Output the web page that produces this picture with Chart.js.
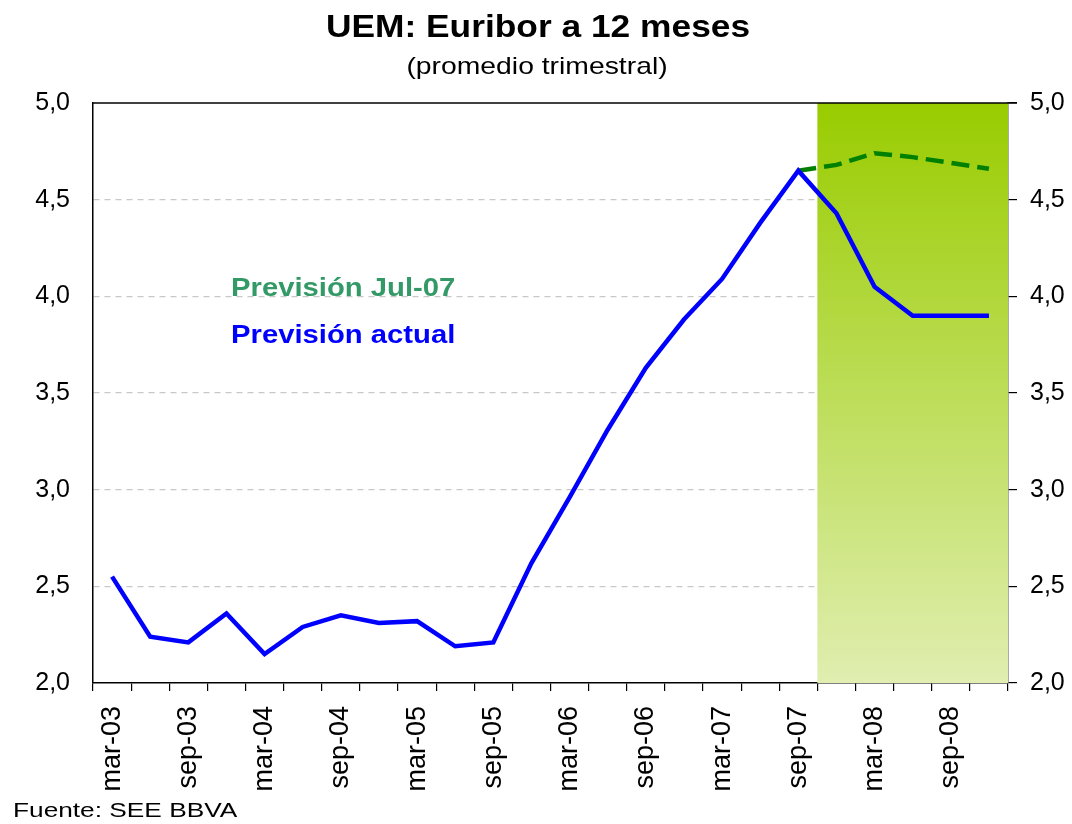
<!DOCTYPE html>
<html lang="es">
<head>
  <meta charset="UTF-8">
  <title>UEM: Euribor a 12 meses</title>
  <script src="https://cdn.jsdelivr.net/npm/chart.js"></script>
  <style>
    html, body { margin: 0; padding: 0; background: #fff; }
    #wrap { width: 1072px; height: 824px; position: relative; }
  </style>
</head>
<body>
<div id="wrap"><canvas id="chart"></canvas></div>

<script>
// quarterly labels, mar-03 .. dic-08
const quarters = [
  'mar-03', 'jun-03', 'sep-03', 'dic-03',
  'mar-04', 'jun-04', 'sep-04', 'dic-04',
  'mar-05', 'jun-05', 'sep-05', 'dic-05',
  'mar-06', 'jun-06', 'sep-06', 'dic-06',
  'mar-07', 'jun-07', 'sep-07', 'dic-07',
  'mar-08', 'jun-08', 'sep-08', 'dic-08'
];
// current forecast (blue)
const prevActual = [
  2.55, 2.24, 2.21, 2.36,
  2.15, 2.29, 2.35, 2.31,
  2.32, 2.19, 2.21, 2.62,
  2.96, 3.31, 3.63, 3.88,
  4.09, 4.38, 4.65, 4.43,
  4.05, 3.90, 3.90, 3.90
];
// Jul-07 forecast (green dashed)
const prevJul07 = [
  null, null, null, null,
  null, null, null, null,
  null, null, null, null,
  null, null, null, null,
  null, null, 4.65, 4.68,
  4.74, 4.72, 4.69, 4.66
];
const yTicks = [2.0, 2.5, 3.0, 3.5, 4.0, 4.5, 5.0];
const shadeFrom = 'dic-07';   // forecast area starts here

const FONT = "Arial, 'Liberation Sans', sans-serif";
const fmt = v => Number(v).toFixed(1).replace('.', ',');

// text stretched a little wider, like the original
function wideText(ctx, txt, x, y, font, color, sx, align) {
  ctx.save();
  ctx.font = font;
  ctx.fillStyle = color;
  ctx.textBaseline = 'alphabetic';
  const w = ctx.measureText(txt).width * sx;
  let x0 = x;
  if (align === 'center') x0 = x - w / 2;
  ctx.translate(x0, y);
  ctx.scale(sx, 1);
  ctx.textAlign = 'left';
  ctx.fillText(txt, 0, 0);
  ctx.restore();
}

const decorPlugin = {
  id: 'decor',
  beforeDatasetsDraw(chart) {
    const { ctx, chartArea: a, scales } = chart;
    const i = quarters.indexOf(shadeFrom);
    const left = (scales.x.getPixelForValue(i - 1) + scales.x.getPixelForValue(i)) / 2;
    const g = ctx.createLinearGradient(0, a.top, 0, a.bottom);
    g.addColorStop(0, '#99cc00');
    g.addColorStop(1, '#e0eeb0');
    ctx.save();
    ctx.fillStyle = g;
    ctx.fillRect(left, a.top, a.right - left, a.bottom - a.top);
    ctx.restore();
  },
  afterDraw(chart) {
    const { ctx, chartArea: a } = chart;
    // top frame line
    ctx.save();
    ctx.strokeStyle = '#000';
    ctx.lineWidth = 1.5;
    ctx.beginPath();
    ctx.moveTo(a.left, a.top);
    ctx.lineTo(a.right + 9, a.top);
    ctx.stroke();
    ctx.restore();

    wideText(ctx, 'UEM: Euribor a 12 meses', 538, 37, 'bold 31px ' + FONT, '#000', 1.14, 'center');
    wideText(ctx, '(promedio trimestral)', 537, 74, '24px ' + FONT, '#000', 1.18, 'center');
    wideText(ctx, 'Previsión Jul-07', a.left + 138, a.top + 193, 'bold 25px ' + FONT, '#339966', 1.17, 'left');
    wideText(ctx, 'Previsión actual', a.left + 138, a.top + 240, 'bold 25px ' + FONT, '#0000ff', 1.17, 'left');
    wideText(ctx, 'Fuente: SEE BBVA', 13, 817, '21px ' + FONT, '#000', 1.25, 'left');
  }
};

const ctx = document.getElementById('chart').getContext('2d');
new Chart(ctx, {
  type: 'line',
  data: {
    labels: quarters,
    datasets: [
      {
        label: 'Previsión actual',
        data: prevActual,
        borderColor: '#0000ff',
        borderWidth: 4.5,
        pointRadius: 0,
        tension: 0,
        fill: false
      },
      {
        label: 'Previsión Jul-07',
        data: prevJul07,
        borderColor: '#008000',
        borderWidth: 4.5,
        borderDash: [18, 8],
        pointRadius: 0,
        tension: 0,
        fill: false,
        spanGaps: false
      }
    ]
  },
  options: {
    responsive: true,
    maintainAspectRatio: false,
    animation: false,
    layout: { padding: { top: 103, left: 0, right: 0, bottom: 0 } },
    plugins: {
      legend: { display: false },
      tooltip: { enabled: false }
    },
    scales: {
      x: {
        offset: true,
        grid: {
          offset: true,
          drawOnChartArea: false,
          drawTicks: true,
          tickLength: 8,
          color: '#000',
          lineWidth: 1.2
        },
        border: { color: '#000', width: 1.5 },
        ticks: {
          autoSkip: false,
          maxRotation: 90,
          minRotation: 90,
          padding: 15,
          color: '#000',
          font: { family: FONT, size: 27 },
          callback: function (v, i) { return i % 2 === 0 ? quarters[i] : ''; }
        },
        afterFit: s => { s.height = 141; }
      },
      y: {
        position: 'left',
        min: 2,
        max: 5,
        afterBuildTicks: s => { s.ticks = yTicks.map(v => ({ value: v })); },
        grid: {
          drawTicks: false,
          color: c => (c.tick && (c.tick.value === 2 || c.tick.value === 5)) ? 'rgba(0,0,0,0)' : '#c8c8c8',
          lineWidth: 1.2
        },
        border: { color: '#000', width: 1.5, dash: [6, 5] },
        ticks: {
          padding: 23,
          color: '#000',
          font: { family: FONT, size: 25 },
          callback: v => fmt(v)
        },
        afterFit: s => { s.width = 93; }
      },
      y2: {
        position: 'right',
        min: 2,
        max: 5,
        afterBuildTicks: s => { s.ticks = yTicks.map(v => ({ value: v })); },
        grid: {
          drawOnChartArea: false,
          drawTicks: true,
          tickLength: 9,
          color: '#000',
          lineWidth: 1.2
        },
        border: { color: '#555', width: 1.5 },
        ticks: {
          padding: 13,
          color: '#000',
          font: { family: FONT, size: 25 },
          callback: v => fmt(v)
        },
        afterFit: s => { s.width = 64; }
      }
    }
  },
  plugins: [decorPlugin]
});
</script>
</body>
</html>
